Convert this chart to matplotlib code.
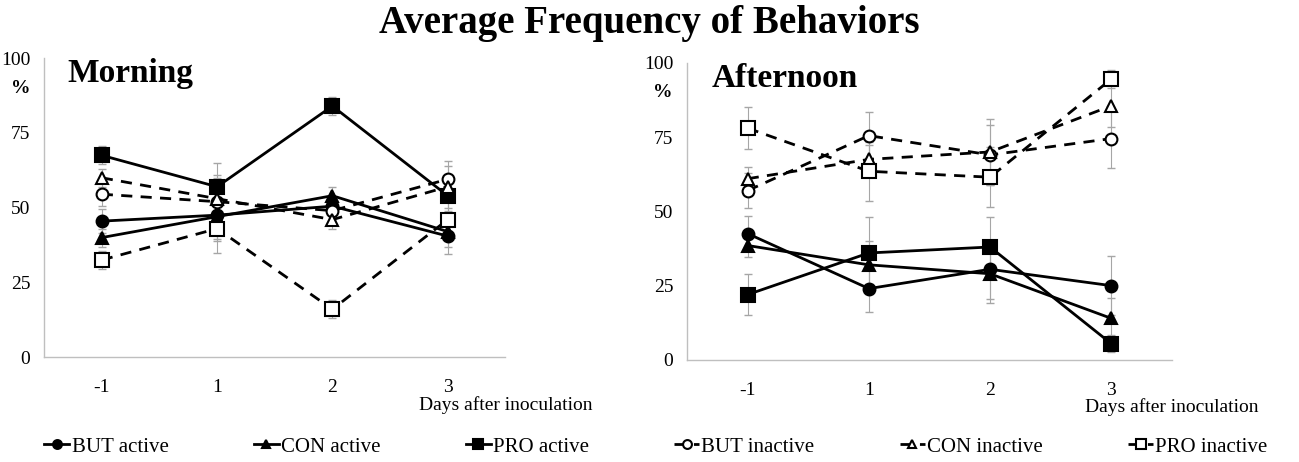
import numpy as np
import matplotlib.pyplot as plt

plt.rcParams['font.family'] = ['Liberation Serif', 'DejaVu Serif']

days = ['-1', '1', '2', '3']
series = ['BUT active', 'CON active', 'PRO active',
          'BUT inactive', 'CON inactive', 'PRO inactive']

# Morning means and error bars
morning = {
    'BUT active':   [45.5, 47.5, 50.5, 40.5],
    'CON active':   [40.0, 47.0, 54.0, 42.0],
    'PRO active':   [67.5, 57.0, 84.0, 54.0],
    'BUT inactive': [54.5, 52.0, 49.0, 59.5],
    'CON inactive': [60.0, 53.0, 46.0, 57.0],
    'PRO inactive': [32.5, 43.0, 16.0, 46.0],
}
morning_err = {
    'BUT active':   [4, 8, 3, 6],
    'CON active':   [3, 8, 3, 5],
    'PRO active':   [3, 8, 3, 5],
    'BUT inactive': [4, 8, 3, 6],
    'CON inactive': [3, 8, 3, 7],
    'PRO inactive': [3, 8, 3, 6],
}

# Afternoon means and error bars
afternoon = {
    'BUT active':   [42.5, 24.0, 30.5, 25.0],
    'CON active':   [38.5, 32.0, 29.0, 14.0],
    'PRO active':   [22.0, 36.0, 38.0, 5.5],
    'BUT inactive': [57.0, 75.5, 69.0, 74.5],
    'CON inactive': [61.0, 67.5, 70.0, 85.5],
    'PRO inactive': [78.0, 63.5, 61.5, 94.5],
}
afternoon_err = {
    'BUT active':   [6, 8, 10, 10],
    'CON active':   [4, 8, 10, 7],
    'PRO active':   [7, 12, 10, 3],
    'BUT inactive': [6, 8, 10, 10],
    'CON inactive': [4, 5, 11, 7],
    'PRO inactive': [7, 10, 10, 3],
}

markers = {'BUT': 'o', 'CON': '^', 'PRO': 's'}
msizes = {'BUT': 8.5, 'CON': 8.5, 'PRO': 10}


def draw(ax, data, err, label, title_size):
    x = np.arange(len(days))
    for name in series:
        grp, state = name.split()
        active = state == 'active'
        ax.errorbar(x, data[name], yerr=err[name], fmt='none',
                    ecolor='#a6a6a6', elinewidth=0.8, capsize=3, zorder=1)
        ax.plot(x, data[name], color='black', lw=2,
                ls='-' if active else (0, (4, 3)),
                marker=markers[grp], ms=msizes[grp],
                mfc='black' if active else 'white', mec='black', mew=1.5,
                label=name, zorder=3)
    ax.set_xlim(-0.5, 3.5)
    ax.set_ylim(0, 100)
    ax.set_xticks(x)
    ax.set_xticklabels(days)
    ax.set_yticks([0, 25, 50, 75, 100])
    ax.tick_params(length=0, labelsize=14)
    ax.tick_params(axis='x', pad=16)
    ax.tick_params(axis='y', pad=10)
    for s in ['top', 'right']:
        ax.spines[s].set_visible(False)
    for s in ['left', 'bottom']:
        ax.spines[s].set_color('#bfbfbf')
        ax.spines[s].set_linewidth(1)
    ax.text(0.05, 1.0, label, transform=ax.transAxes, fontsize=title_size,
            fontweight='bold', va='top', ha='left')
    ax.text(-0.05, 0.9, '%', transform=ax.transAxes, fontsize=14,
            fontweight='bold', va='center', ha='center')
    ax.text(1.0, -0.16, 'Days after inoculation', transform=ax.transAxes,
            fontsize=14, ha='center', va='center')


fig = plt.figure(figsize=(12.99, 4.62), dpi=100)
ax1 = fig.add_axes([0.034, 0.227, 0.355, 0.647])
ax2 = fig.add_axes([0.529, 0.221, 0.373, 0.643])
draw(ax1, morning, morning_err, 'Morning', 24)
draw(ax2, afternoon, afternoon_err, 'Afternoon', 24)

fig.text(0.5, 0.95, 'Average Frequency of Behaviors', fontsize=28,
         fontweight='bold', ha='center', va='center')

handles, labels = ax1.get_legend_handles_labels()
fig.legend(handles, labels, loc='center', bbox_to_anchor=(0.505, 0.033),
           ncol=6, frameon=False, fontsize=15, handlelength=1.2,
           columnspacing=4.1, handletextpad=0.1, markerscale=0.75,
           borderpad=0, borderaxespad=0)

fig.savefig('out.png', dpi=100)
